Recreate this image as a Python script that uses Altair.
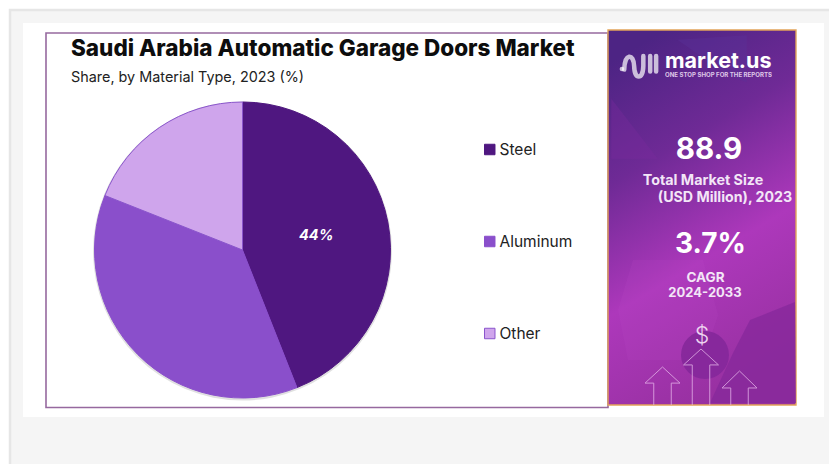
import altair as alt
import pandas as pd

# Market share by material type
categories = ["Steel", "Aluminum", "Other"]
shares = [44, 37, 19]
slice_labels = [f"{shares[0]}%", "", ""]
palette = ["#4f1780", "#8a4fcb", "#cfa5ec"]
edge_palette = ["#4f1780", "#8a4fcb", "#8a55cc"]

title_text = "Saudi Arabia Automatic Garage Doors Market"
subtitle_text = "Share, by Material Type, 2023 (%)"

W, H = 829, 464
FONT = "Inter"
one = pd.DataFrame({"k": [0]})


def box(x, y, x2, y2, **mark):
    return alt.Chart(one).mark_rect(**mark).encode(
        x=alt.value(x), x2=alt.value(x2), y=alt.value(y), y2=alt.value(y2)
    )


def label(text, x, y, size, color="white", weight=400, align="center", **mark):
    return alt.Chart(one).mark_text(
        text=text, font=FONT, fontSize=size, color=color, fontWeight=weight,
        align=align, baseline="middle", **mark
    ).encode(x=alt.value(x), y=alt.value(y))


def glyph(path, x, y, size, **mark):
    return alt.Chart(one).mark_point(shape=path, size=size, **mark).encode(
        x=alt.value(x), y=alt.value(y)
    )


# Page backdrop, card and chart frame
backdrop = [
    box(10, 10, W + 5, H + 5, fill="#f5f5f5", stroke="#e6e6e6", strokeWidth=2.5),
    box(23, 23, 824, 417, fill="white"),
    box(46, 33, 608, 407.5, fill="white", stroke="#96699f", strokeWidth=1.6),
]

# Side panel with its vertical gradient
panel_fill = alt.Gradient(
    gradient="linear", x1=0.3, y1=0, x2=0.6, y2=1,
    stops=[
        alt.GradientStop(offset=0, color="#4d2484"),
        alt.GradientStop(offset=0.3, color="#6f2a96"),
        alt.GradientStop(offset=0.62, color="#ad38bb"),
        alt.GradientStop(offset=1, color="#96309f"),
    ],
)
panel = [box(608, 30, 796, 405, fill=panel_fill, stroke="#e2a45a", strokeWidth=1.4)]

# Soft shapes behind the panel text
shapes = [
    glyph("M-0.55,-0.9 L1,-1 L1,0.05 L0.6,-0.1 Z", 702, 80, 8000,
          fill="#5a3398", fillOpacity=0.4, strokeWidth=0),
    glyph("M-1,-0.55 L0.2,1 L-1,1 Z", 650, 120, 6000,
          fill="#7a2c9e", fillOpacity=0.35, strokeWidth=0),
    glyph("M-0.7,-1 L0.7,-1 L1,0.1 L0.7,1 L-0.8,1 L-1,0 Z", 668, 310, 10000,
          fill="#b94cc8", fillOpacity=0.16, strokeWidth=0),
    glyph("M-0.72,1 L-0.26,0 L0.08,-0.66 L0.98,-1.02 L1,1 Z", 746, 353, 10000,
          fill="#86289b", fillOpacity=0.75, strokeWidth=0),
    glyph("circle", 705, 355, 2300, fill="#86289b", fillOpacity=0.95, strokeWidth=0),
]

# Rising arrows along the bottom of the panel
arrow_style = dict(stroke="#e8b8ec", strokeWidth=1, filled=False, opacity=0.75)
arrows = [
    glyph("M-0.5,1.17 L-0.5,-0.08 L-1,-0.08 L0,-1 L1,-0.08 L0.5,-0.08 L0.5,1.17",
          662.5, 384.5, 1225, **arrow_style),
    glyph("M-0.5,2.2 L-0.5,-0.09 L-1,-0.09 L0,-1 L1,-0.09 L0.5,-0.09 L0.5,2.2",
          701, 366.5, 1225, **arrow_style),
    glyph("M-0.5,0.94 L-0.5,-0.03 L-1,-0.03 L0,-1 L1,-0.03 L0.5,-0.03 L0.5,0.94",
          739.5, 388.5, 1225, **arrow_style),
]

# Brand mark
logo_path = (
    "M-0.82,0.2 C-0.8,-0.72 -0.3,-0.72 -0.27,0 C-0.25,0.78 0.22,0.78 0.24,0 "
    "L0.24,-0.55 M0.62,-0.55 L0.62,0.3 M0.95,-0.55 L0.95,0.3"
)
logo = [
    glyph(logo_path, 639, 66, 1300, stroke="white", strokeWidth=4.5, filled=False,
          strokeCap="round"),
    glyph("circle", 622, 69, 22, fill="white", strokeWidth=0, filled=True),
    label("market.us", 665, 61.5, 21.5, weight=700, align="left"),
    label("ONE STOP SHOP FOR THE REPORTS", 665, 75, 6.1, weight=700, align="left",
          color="#ead9f2", opacity=0.9),
]

# Panel figures
figures = [
    label("88.9", 709, 150, 29.5, weight=700),
    label("Total Market Size", 703, 181, 14.3, weight=700, color="#f3e6f7"),
    label("(USD Million), 2023", 725, 198, 14.2, weight=700, color="#f3e6f7"),
    label("3.7%", 710.5, 245, 28, weight=700),
    label("CAGR", 705.5, 277.5, 13.5, weight=700, color="#f3e6f7"),
    label("2024-2033", 705, 293, 13, weight=700, color="#f3e6f7"),
    label("$", 702, 336, 23, color="#eed3f0", weight=300),
]

# Headings
headings = [
    label(title_text, 71, 49, 22.5, color="#0d0d0d", weight=800, align="left"),
    label(subtitle_text, 71, 78, 14.4, color="#222222", align="left"),
]

# Pie with its legend
pie_data = pd.DataFrame(
    {"material": categories, "share": shares, "rank": range(len(shares)), "tag": slice_labels}
)
legend = alt.Legend(
    title=None, orient="none", legendX=482, legendY=139.5, symbolType="square",
    symbolSize=110, symbolStrokeWidth=1, labelFont=FONT, labelFontSize=15.5,
    labelColor="#222222", rowPadding=72, labelOffset=2, padding=0, clipHeight=20,
)
theta = alt.Theta("share:Q", stack=True)
order = alt.Order("rank:Q")
pie_base = alt.Chart(pie_data)
pie_shadow = alt.Chart(one).mark_arc(
    outerRadius=149.5, theta=0, theta2=6.2832, fill="#000000", fillOpacity=0.12
).encode(x=alt.value(242.5), y=alt.value(251))
pie = pie_base.mark_arc(outerRadius=148, strokeWidth=1).encode(
    x=alt.value(242.5), y=alt.value(250),
    theta=theta, order=order,
    fill=alt.Fill("material:N", scale=alt.Scale(domain=categories, range=palette), legend=legend),
    stroke=alt.Stroke("material:N", scale=alt.Scale(domain=categories, range=edge_palette), legend=legend),
)
pie_tags = pie_base.mark_text(
    radius=75, font=FONT, fontSize=14.5, fontWeight=700, fontStyle="italic", color="white"
).encode(x=alt.value(242.5), y=alt.value(250), theta=theta, order=order, text="tag:N")

chart = alt.layer(
    *backdrop, *panel, *shapes, *arrows, *logo, *figures, *headings,
    pie_shadow, pie, pie_tags,
).properties(
    width=W, height=H, padding=0, autosize=alt.AutoSizeParams(type="none"),
    background="white",
).configure_view(stroke=None).resolve_scale(theta="independent")

chart.save("out.html", embed_options={"renderer": "svg", "actions": False})
